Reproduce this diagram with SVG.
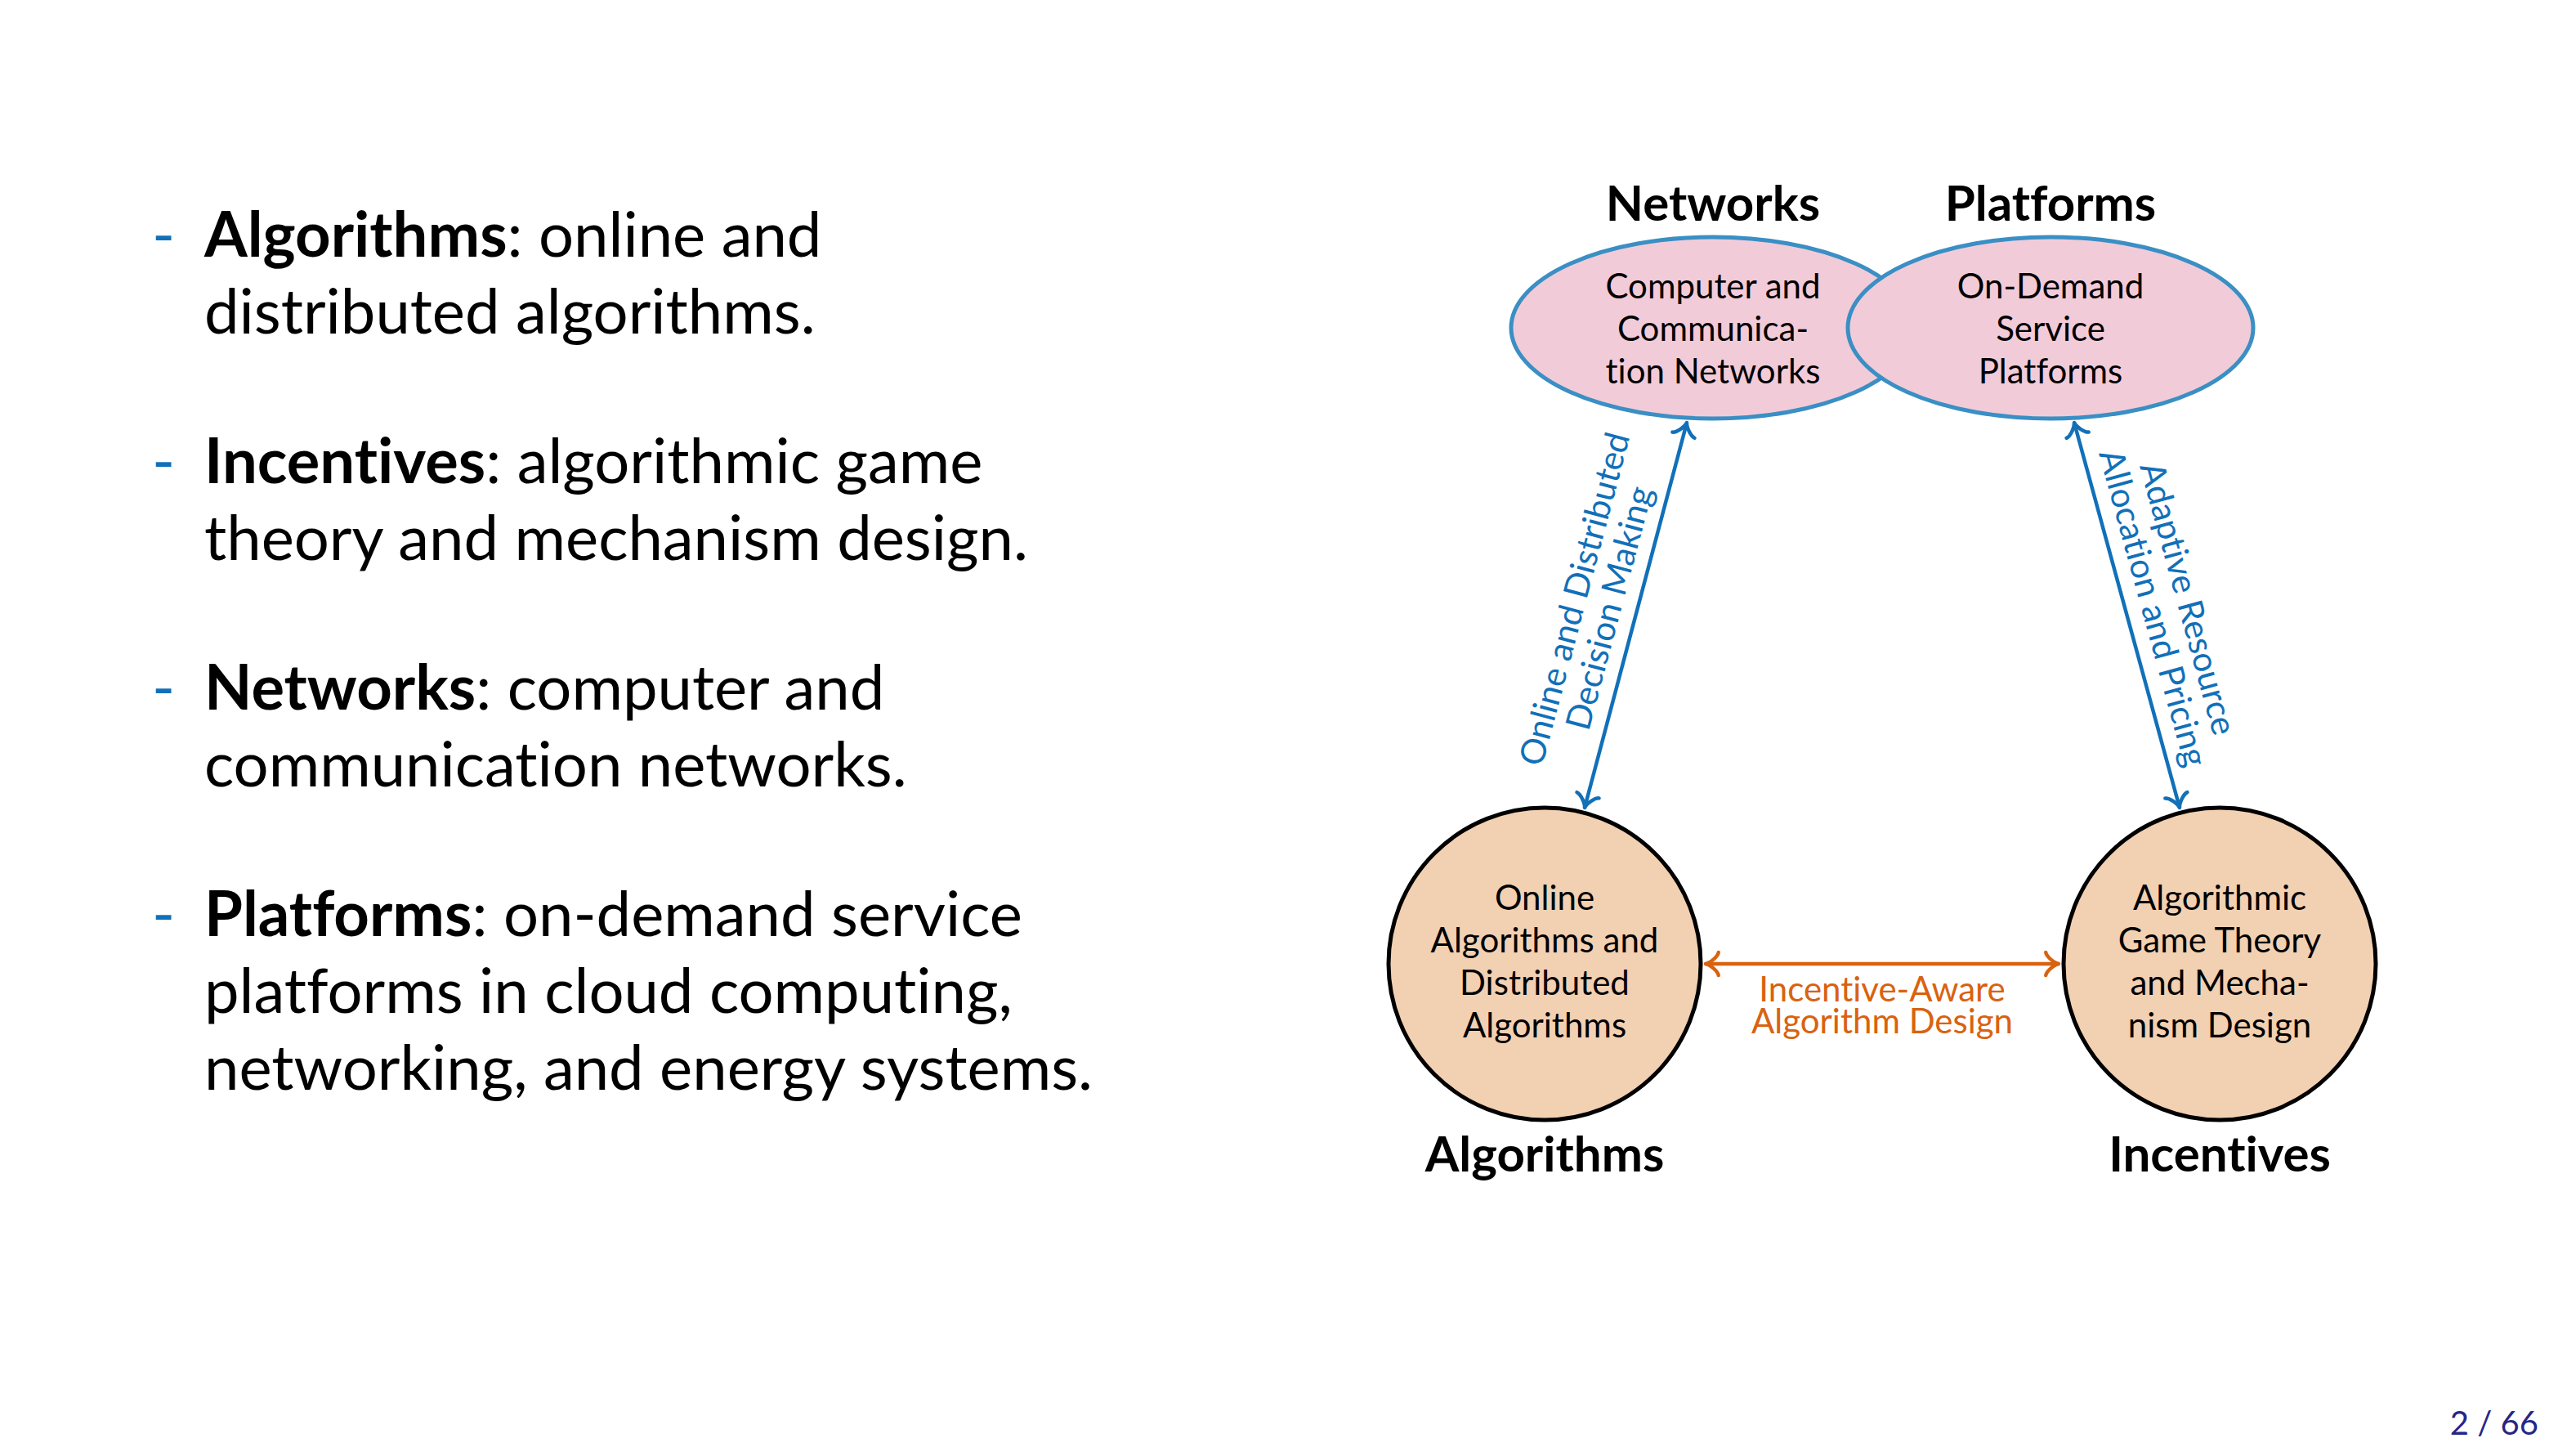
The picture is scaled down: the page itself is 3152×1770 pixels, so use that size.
<svg xmlns="http://www.w3.org/2000/svg" width="3152" height="1770" viewBox="0 0 3152 1770">
<style>
text{font-family:Lato,"Noto Sans","Liberation Sans",sans-serif;font-variant-ligatures:no-common-ligatures;}
.body{font-size:76px;fill:#000;}
.b{font-weight:bold;}
.dash{font-size:76px;fill:#1170b8;}
.nodetxt{font-size:42px;fill:#000;text-anchor:middle;}
.big{font-size:60px;font-weight:bold;fill:#000;text-anchor:middle;}
.blue{font-size:42px;fill:#1170b8;text-anchor:middle;}
.orange{font-size:42px;fill:#d9620f;text-anchor:middle;}
.ell{fill:#f2cbd9;stroke:#3a8fc4;stroke-width:5;}
.circ{fill:#f2d0b2;stroke:#000;stroke-width:5;}
.cb{fill:none;stroke:#1170b8;stroke-width:4.5;}
.co{fill:none;stroke:#d9620f;stroke-width:4.5;}
</style>
<defs>
<marker id="mb" viewBox="-20 -20 40 40" markerWidth="40" markerHeight="40" markerUnits="userSpaceOnUse" refX="0" refY="0" orient="auto-start-reverse">
<path d="M-15.75,14 C-14.9,8.75 -5.25,0.9 0,0 C-5.25,-0.9 -14.9,-8.75 -15.75,-14" fill="none" stroke="#1170b8" stroke-width="4.5" stroke-linecap="round" stroke-linejoin="round"/>
</marker>
<marker id="mo" viewBox="-20 -20 40 40" markerWidth="40" markerHeight="40" markerUnits="userSpaceOnUse" refX="0" refY="0" orient="auto-start-reverse">
<path d="M-15.75,14 C-14.9,8.75 -5.25,0.9 0,0 C-5.25,-0.9 -14.9,-8.75 -15.75,-14" fill="none" stroke="#d9620f" stroke-width="4.5" stroke-linecap="round" stroke-linejoin="round"/>
</marker>
</defs>
<rect width="3152" height="1770" fill="#fff"/>

<g id="bullets">
<text class="dash" x="186" y="314">-</text>
<text class="body" x="250" y="314"><tspan class="b">Algorithms</tspan>: online and</text>
<text class="body" x="250" y="408">distributed algorithms.</text>
<text class="dash" x="186" y="591">-</text>
<text class="body" x="250" y="591"><tspan class="b">Incentives</tspan>: algorithmic game</text>
<text class="body" x="250" y="685">theory and mechanism design.</text>
<text class="dash" x="186" y="868">-</text>
<text class="body" x="250" y="868"><tspan class="b">Networks</tspan>: computer and</text>
<text class="body" x="250" y="962">communication networks.</text>
<text class="dash" x="186" y="1145">-</text>
<text class="body" x="250" y="1145"><tspan class="b">Platforms</tspan>: on-demand service</text>
<text class="body" x="250" y="1239">platforms in cloud computing,</text>
<text class="body" x="250" y="1333">networking, and energy systems.</text>
</g>

<g id="connectors">
<line class="cb" x1="1939" y1="988" x2="2064" y2="517" marker-start="url(#mb)" marker-end="url(#mb)"/>
<line class="cb" x1="2538" y1="517" x2="2667" y2="988" marker-start="url(#mb)" marker-end="url(#mb)"/>
<line class="co" x1="2087" y1="1179" x2="2519" y2="1179" marker-start="url(#mo)" marker-end="url(#mo)"/>
<g transform="translate(2001.5,752.5) rotate(-75.1)">
<text class="blue" x="0" y="-63">Online and Distributed</text>
<text class="blue" x="0" y="-19">Decision Making</text>
</g>
<g transform="translate(2602.5,752.5) rotate(74.7)">
<text class="blue" x="0" y="-63">Adaptive Resource</text>
<text class="blue" x="0" y="-19">Allocation and Pricing</text>
</g>
<text class="orange" x="2303" y="1225">Incentive-Aware</text>
<text class="orange" x="2303" y="1264">Algorithm Design</text>
</g>

<g id="networks">
<ellipse class="ell" cx="2096" cy="401" rx="247" ry="111"/>
<text class="nodetxt" x="2096" y="365">Computer and</text>
<text class="nodetxt" x="2096" y="417">Communica-</text>
<text class="nodetxt" x="2096" y="469">tion Networks</text>
<text class="big" x="2096" y="270">Networks</text>
</g>
<g id="platforms">
<ellipse class="ell" cx="2509" cy="401" rx="248" ry="111"/>
<text class="nodetxt" x="2509" y="365">On-Demand</text>
<text class="nodetxt" x="2509" y="417">Service</text>
<text class="nodetxt" x="2509" y="469">Platforms</text>
<text class="big" x="2509" y="270">Platforms</text>
</g>
<g id="algorithms">
<circle class="circ" cx="1890" cy="1179" r="191"/>
<text class="nodetxt" x="1890" y="1113">Online</text>
<text class="nodetxt" x="1890" y="1165">Algorithms and</text>
<text class="nodetxt" x="1890" y="1217">Distributed</text>
<text class="nodetxt" x="1890" y="1269">Algorithms</text>
<text class="big" x="1890" y="1433">Algorithms</text>
</g>
<g id="incentives">
<circle class="circ" cx="2716" cy="1179" r="191"/>
<text class="nodetxt" x="2716" y="1113">Algorithmic</text>
<text class="nodetxt" x="2716" y="1165">Game Theory</text>
<text class="nodetxt" x="2716" y="1217">and Mecha-</text>
<text class="nodetxt" x="2716" y="1269">nism Design</text>
<text class="big" x="2716" y="1433">Incentives</text>
</g>

<text x="3106" y="1755" font-size="40" fill="#262686" text-anchor="end">2 / 66</text>
</svg>
